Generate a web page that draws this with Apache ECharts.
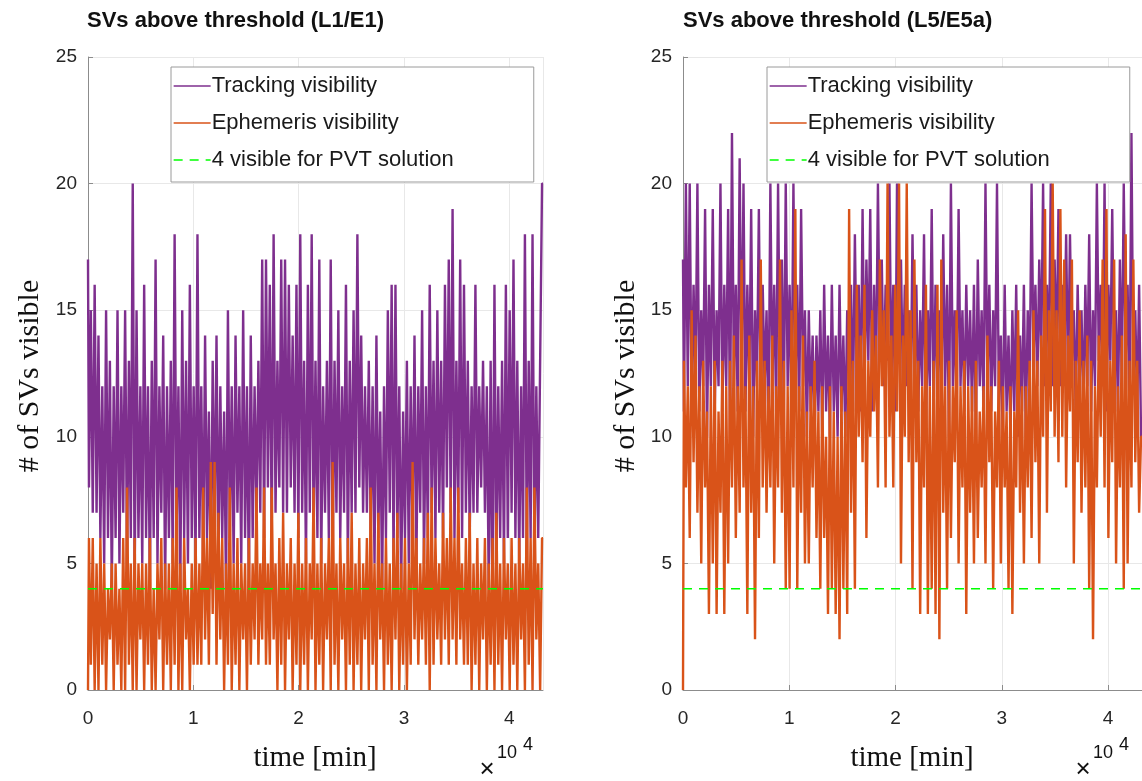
<!DOCTYPE html>
<html>
<head>
<meta charset="utf-8">
<title>SVs above threshold</title>
<script src="https://cdn.jsdelivr.net/npm/echarts@6/dist/echarts.min.js"></script>
<style>
  html, body { margin: 0; padding: 0; background: #fff; }
  #chart { width: 1142px; height: 781px; }
</style>
</head>
<body>
<div id="chart"></div>
<script>
// samples are evenly spaced over 30 days (43200 min)
const tEnd = 43200
const xTicks = ['0', '1', '2', '3', '4']
const legendNames = ['Tracking visibility', 'Ephemeris visibility', '4 visible for PVT solution']
const pvtLevel = 4

// L1/E1 - number of SVs
const trackL1 = [
  17, 8, 15, 7, 16, 7, 14, 6, 12, 5, 15, 6, 13, 4, 12, 6, 15, 5, 12, 7, 15, 5, 13, 6, 20, 4, 15, 6, 12, 5,
  16, 6, 12, 4, 13, 6, 17, 5, 12, 7, 14, 4, 12, 6, 13, 5, 18, 6, 12, 4, 15, 6, 13, 5, 16, 6, 12, 5, 18, 6,
  12, 5, 14, 6, 11, 4, 13, 6, 14, 5, 12, 6, 11, 4, 15, 6, 12, 5, 14, 7, 12, 5, 15, 6, 12, 4, 14, 6, 12, 7,
  13, 7, 17, 6, 17, 8, 16, 6, 18, 7, 13, 8, 17, 7, 17, 7, 16, 8, 14, 7, 16, 6, 18, 7, 13, 5, 16, 7, 18, 6,
  13, 6, 17, 5, 12, 7, 13, 6, 17, 5, 13, 7, 15, 6, 12, 7, 16, 5, 13, 7, 15, 7, 18, 8, 14, 7, 12, 7, 13, 6,
  12, 5, 14, 6, 11, 4, 12, 6, 15, 7, 16, 5, 16, 6, 12, 4, 11, 6, 13, 5, 12, 6, 14, 5, 12, 7, 15, 5, 12, 6,
  16, 7, 13, 6, 15, 7, 13, 6, 16, 8, 17, 7, 19, 6, 13, 7, 17, 6, 16, 7, 13, 6, 12, 7, 16, 7, 12, 8, 13, 7,
  12, 4, 13, 3, 16, 5, 12, 6, 13, 5, 16, 6, 15, 7, 17, 6, 13, 5, 12, 6, 18, 5, 13, 6, 18, 5, 12, 6, 13, 20
]
const ephemL1 = [
  0, 6, 1, 6, 0, 5, 0, 6, 1, 5, 0, 4, 2, 5, 0, 5, 1, 4, 0, 6, 0, 8, 1, 5, 0, 6, 0, 5, 2, 5,
  0, 5, 1, 6, 0, 4, 0, 5, 2, 6, 0, 5, 1, 5, 0, 6, 1, 8, 0, 5, 0, 6, 2, 4, 0, 5, 1, 6, 1, 5,
  1, 8, 2, 6, 1, 9, 3, 9, 1, 7, 2, 6, 0, 5, 1, 8, 0, 5, 1, 6, 0, 5, 2, 5, 0, 6, 1, 5, 2, 8,
  1, 5, 2, 8, 1, 5, 1, 8, 2, 5, 0, 6, 1, 7, 0, 5, 2, 6, 0, 5, 1, 7, 0, 5, 1, 6, 0, 5, 2, 8,
  0, 5, 1, 6, 0, 5, 2, 6, 0, 9, 1, 5, 0, 6, 2, 5, 0, 6, 1, 7, 0, 5, 1, 6, 0, 5, 2, 6, 0, 8,
  1, 5, 0, 7, 2, 5, 0, 6, 1, 5, 0, 6, 2, 7, 0, 5, 1, 6, 0, 5, 1, 9, 2, 6, 1, 5, 2, 6, 1, 7,
  0, 8, 1, 6, 2, 5, 1, 7, 2, 6, 1, 8, 2, 6, 1, 8, 2, 5, 1, 6, 1, 7, 0, 5, 1, 6, 0, 5, 2, 6,
  0, 5, 1, 6, 0, 7, 1, 5, 0, 6, 2, 5, 0, 6, 1, 5, 0, 6, 2, 5, 0, 8, 1, 6, 0, 8, 2, 5, 0, 6
]

// L5/E5a
const trackL5 = [
  17, 11, 20, 12, 20, 11, 16, 12, 20, 11, 15, 12, 19, 10, 16, 12, 19, 11, 15, 12, 20, 11, 16, 12, 19, 10, 22, 12, 16, 11,
  21, 12, 20, 11, 16, 12, 19, 10, 15, 12, 19, 11, 16, 12, 15, 10, 20, 12, 16, 11, 20, 12, 17, 11, 20, 12, 16, 11, 20, 12,
  16, 11, 19, 12, 15, 10, 15, 11, 14, 10, 14, 11, 15, 10, 16, 11, 14, 10, 16, 11, 14, 10, 16, 11, 14, 10, 15, 12, 16, 11,
  18, 12, 16, 11, 19, 12, 17, 13, 19, 11, 16, 12, 20, 13, 17, 12, 16, 13, 20, 12, 16, 11, 20, 13, 17, 12, 16, 12, 15, 11,
  18, 12, 16, 11, 15, 12, 18, 10, 15, 12, 19, 11, 16, 12, 15, 11, 18, 12, 16, 10, 20, 12, 15, 11, 19, 12, 15, 11, 16, 12,
  15, 11, 16, 10, 17, 12, 15, 11, 20, 12, 16, 11, 15, 12, 20, 11, 14, 10, 16, 11, 14, 10, 15, 11, 16, 10, 14, 11, 16, 10,
  15, 12, 20, 13, 16, 12, 17, 13, 20, 12, 16, 13, 20, 12, 17, 13, 19, 12, 16, 13, 18, 12, 18, 13, 15, 11, 16, 12, 15, 11,
  16, 12, 18, 11, 15, 12, 20, 13, 16, 12, 20, 11, 16, 13, 19, 12, 15, 11, 17, 12, 20, 13, 16, 11, 22, 12, 15, 11, 16, 10
]
const ephemL5 = [
  0, 13, 8, 12, 6, 15, 9, 14, 7, 12, 5, 13, 8, 11, 3, 12, 5, 13, 3, 11, 7, 13, 3, 12, 5, 13, 8, 14, 6, 12,
  7, 17, 8, 12, 3, 14, 7, 12, 2, 13, 6, 17, 8, 13, 7, 12, 8, 14, 5, 12, 8, 17, 7, 13, 4, 12, 4, 15, 8, 19,
  4, 12, 7, 14, 5, 11, 5, 12, 8, 13, 6, 11, 4, 12, 6, 10, 3, 12, 4, 11, 3, 10, 2, 12, 4, 11, 3, 19, 7, 13,
  4, 16, 10, 14, 9, 16, 6, 13, 10, 15, 11, 14, 8, 17, 12, 15, 8, 20, 10, 14, 8, 16, 11, 20, 5, 14, 10, 20, 9, 15,
  4, 17, 9, 13, 3, 12, 8, 16, 3, 12, 4, 13, 3, 16, 2, 17, 7, 12, 4, 13, 6, 12, 9, 15, 5, 12, 8, 13, 3, 12,
  7, 12, 5, 13, 6, 11, 8, 12, 5, 14, 9, 12, 4, 11, 8, 13, 5, 12, 8, 11, 4, 12, 3, 11, 8, 15, 7, 12, 5, 12,
  8, 13, 6, 15, 9, 13, 5, 14, 10, 19, 7, 15, 11, 20, 10, 15, 9, 19, 10, 17, 8, 14, 11, 17, 5, 13, 9, 15, 7, 13,
  8, 14, 4, 13, 2, 12, 8, 14, 10, 17, 8, 19, 6, 13, 9, 17, 5, 12, 8, 14, 4, 18, 5, 13, 8, 17, 9, 13, 7, 10
]

const PURPLE = '#7E2F8E'
const ORANGE = '#D95319'
const GREEN = '#00FF00'

const toPoints = (vals) => vals.map((v, i) => [i * tEnd / (vals.length - 1), v])

const chart = echarts.init(document.getElementById('chart'), null, { renderer: 'canvas' })

const tickFont = { color: '#262626', fontSize: 19, fontFamily: 'Liberation Sans, Arial, sans-serif' }

const makeX = (gridIndex) => ({
  type: 'value', gridIndex, min: 0, max: tEnd, interval: 10000,
  axisLine: { show: true, lineStyle: { color: '#8c8c8c', width: 1 } },
  axisTick: { show: true, inside: true, length: 5, lineStyle: { color: '#8c8c8c' } },
  axisLabel: { ...tickFont, margin: 19, showMaxLabel: false, formatter: (v) => xTicks[Math.round(v / 10000)] ?? '' },
  splitLine: { show: true, lineStyle: { color: '#e8e8e8', width: 1 } }
})
const makeY = (gridIndex) => ({
  type: 'value', gridIndex, min: 0, max: 25, interval: 5,
  axisLine: { show: true, lineStyle: { color: '#8c8c8c', width: 1 } },
  axisTick: { show: true, inside: true, length: 5, lineStyle: { color: '#8c8c8c' } },
  axisLabel: { ...tickFont, margin: 11 },
  splitLine: { show: true, lineStyle: { color: '#e8e8e8', width: 1 } }
})

// step drawing gives the vertical strokes of a densely sampled signal
const lineSeries = (name, vals, color, idx) => ({
  name, type: 'line', xAxisIndex: idx, yAxisIndex: idx,
  data: toPoints(vals), step: 'middle', symbol: 'none', silent: true,
  lineStyle: { color, width: 2.4 }, itemStyle: { color }
})
const pvtSeries = (idx) => ({
  name: legendNames[2], type: 'line', xAxisIndex: idx, yAxisIndex: idx,
  data: [[0, pvtLevel], [tEnd, pvtLevel]], symbol: 'none', silent: true,
  lineStyle: { color: GREEN, width: 1.6, type: [9, 7] }, itemStyle: { color: GREEN }
})

const makeLegend = (left) => ({
  orient: 'vertical', left, top: 67, data: legendNames,
  backgroundColor: '#fff', borderColor: '#9a9a9a', borderWidth: 1,
  padding: [8, 80, 11, 2], itemGap: 15, itemWidth: 37, itemHeight: 14,
  selectedMode: false,
  itemStyle: { opacity: 0 },
  lineStyle: { width: 1.3 },
  textStyle: { color: '#1a1a1a', fontSize: 22, lineHeight: 22, fontFamily: 'Liberation Sans, Arial, sans-serif', padding: [0, 0, 0, -4] }
})

const serif = 'Liberation Serif, DejaVu Serif, serif'
const txt = (x, y, text, font, extra = {}) => ({
  type: 'text', x, y, silent: true, ...extra,
  style: { text, font, fill: '#111', textAlign: 'center', textVerticalAlign: 'middle', ...(extra.style || {}) }
})

const option = {
  animation: false,
  grid: [
    { left: 88, top: 57, width: 455, height: 633 },
    { left: 683, top: 57, width: 463, height: 633 }
  ],
  xAxis: [makeX(0), makeX(1)],
  yAxis: [makeY(0), makeY(1)],
  legend: [makeLegend(171), makeLegend(767)],
  series: [
    lineSeries(legendNames[0], trackL1, PURPLE, 0),
    lineSeries(legendNames[1], ephemL1, ORANGE, 0),
    pvtSeries(0),
    lineSeries(legendNames[0], trackL5, PURPLE, 1),
    lineSeries(legendNames[1], ephemL5, ORANGE, 1),
    pvtSeries(1)
  ],
  graphic: [
    txt(87, 21, 'SVs above threshold (L1/E1)', 'bold 22px Liberation Sans, Arial, sans-serif', { style: { textAlign: 'left' } }),
    txt(683, 21, 'SVs above threshold (L5/E5a)', 'bold 22px Liberation Sans, Arial, sans-serif', { style: { textAlign: 'left' } }),
    txt(30, 376, '# of SVs visible', '30px ' + serif, { rotation: Math.PI / 2 }),
    txt(626, 376, '# of SVs visible', '30px ' + serif, { rotation: Math.PI / 2 }),
    txt(315, 758, 'time [min]', '29px ' + serif),
    txt(912, 758, 'time [min]', '29px ' + serif),
    txt(487, 770, '×', '26px Liberation Sans, Arial, sans-serif'),
    txt(507, 753, '10', '18px Liberation Sans, Arial, sans-serif'),
    txt(528, 745, '4', '18px Liberation Sans, Arial, sans-serif'),
    txt(1083, 770, '×', '26px Liberation Sans, Arial, sans-serif'),
    txt(1103, 753, '10', '18px Liberation Sans, Arial, sans-serif'),
    txt(1124, 745, '4', '18px Liberation Sans, Arial, sans-serif')
  ]
}

chart.setOption(option)
window.addEventListener('resize', () => chart.resize())
</script>
</body>
</html>
